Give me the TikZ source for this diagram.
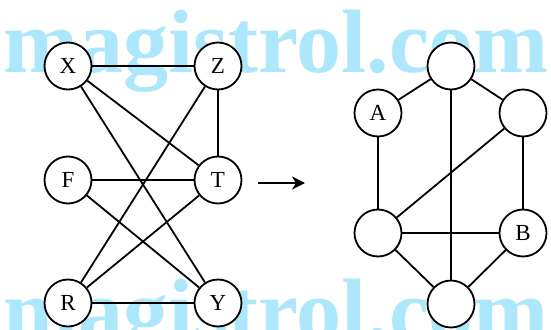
\documentclass[tikz,border=0pt]{standalone}
\usepackage{fontspec}
\setmainfont{Liberation Serif}
\usetikzlibrary{arrows.meta}
\definecolor{wmark}{HTML}{ADE7FB}
\pgfdeclarelayer{lettering}
\pgfdeclarelayer{edges}
\pgfsetlayers{lettering,edges,main}
\begin{document}
\begin{tikzpicture}[x=1pt,y=-1pt,
  vtx/.style={circle,draw,line width=1.8pt,fill=white,minimum size=47pt,inner sep=0pt,
    font=\fontsize{23}{23}\selectfont},
  link/.style={line width=1.8pt},
  wm/.style={text=wmark,inner sep=0pt,anchor=base west,
    font=\fontsize{90}{90}\selectfont\bfseries}]
\useasboundingbox (0,0) rectangle (551,329);
% background lettering
\begin{pgfonlayer}{lettering}
\node[wm] (wmtop) at (3,73) {magistrol.com};
\node[wm] (wmbot) at (3,341) {magistrol.com};
\end{pgfonlayer}
% left graph
\node[vtx] (X) at (68,66) {X};
\node[vtx] (Z) at (218,66) {Z};
\node[vtx] (F) at (68,180) {F};
\node[vtx] (T) at (218,180) {T};
\node[vtx] (R) at (68,303) {R};
\node[vtx] (Y) at (218,303) {Y};
% right graph
\node[vtx] (P1) at (451,66) {};
\node[vtx] (A) at (378,113) {A};
\node[vtx] (P2) at (523,113) {};
\node[vtx] (P3) at (378,233) {};
\node[vtx] (B) at (523,233) {B};
\node[vtx] (P4) at (451,304) {};
% edges, kept under the vertices
\begin{pgfonlayer}{edges}
\foreach \a/\b in {X/Z,X/T,X/Y,F/T,F/Y,Z/T,Z/R,T/R,R/Y,
  P1/A,P1/P2,P1/P4,A/P3,P2/P3,P2/B,P3/B,P3/P4,B/P4}
  \draw[link] (\a) -- (\b);
\end{pgfonlayer}
% arrow between the graphs
\coordinate (s) at (258,183);
\coordinate (e) at (305,183);
\draw[line width=1.8pt,-{Stealth[length=13pt,width=13pt,inset=4pt]}] (s) -- (e);
\end{tikzpicture}
\end{document}
